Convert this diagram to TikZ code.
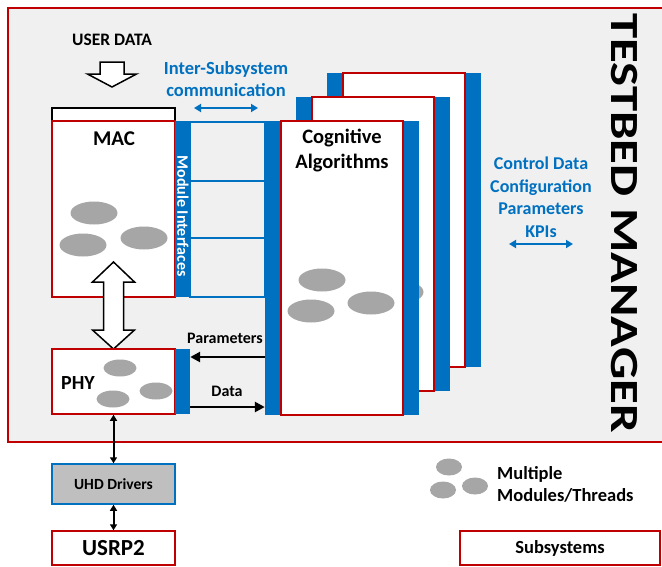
\documentclass[tikz,border=0pt]{standalone}
\usepackage{xcolor}
\usepackage{fontspec}
\setmainfont{Carlito}
\usepackage{tikz}
\usetikzlibrary{arrows.meta}
\usetikzlibrary{shapes.geometric}

\definecolor{tbred}{HTML}{C00000}
\definecolor{tbblue}{HTML}{0070C0}
\definecolor{tbback}{HTML}{F0F0F0}
\definecolor{blobgray}{HTML}{A6A6A6}
\definecolor{uhdgray}{HTML}{BFBFBF}

\newcommand{\fsz}[2]{\fontsize{#1}{#2}\selectfont\bfseries}

\tikzset{
	subsys/.style={draw=tbred, line width=1.5pt, fill=white, inner sep=0pt},
	bluebar/.style={fill=tbblue, inner sep=0pt},
	blob/.style={ellipse, fill=blobgray, inner sep=0pt, minimum width=47pt, minimum height=23pt},
	smallblob/.style={blob, minimum width=33pt, minimum height=17pt},
	blockarrow/.style={draw=black, line width=1.5pt, fill=white, line join=miter},
	blkarrow/.style={line width=2.5pt, -{Triangle[length=10pt,width=10pt]}},
	dblarrow/.style={line width=2pt, {Triangle[length=6pt,width=7pt]}-{Triangle[length=6pt,width=7pt]}},
	bluearrow/.style={tbblue, line width=2pt, {Triangle[length=7pt,width=8pt]}-{Triangle[length=7pt,width=8pt]}},
	lbl/.style={inner sep=0pt, align=center}
}

\begin{document}
\begin{tikzpicture}[x=1pt, y=-1pt]
	\useasboundingbox (0,0) rectangle (662,566);
	\clip (0,0) rectangle (662,566);

	% testbed manager frame
	\draw[draw=tbred, line width=2pt, fill=tbback] (8,8) rectangle (690,442);
	\node[lbl, rotate=-90, font=\fsz{40}{40}] (tbmgr) at (624,223) {\scalebox{1.27}[1]{TESTBED MANAGER}};

	% user data
	\node[lbl, font=\fsz{17.5}{21}] (userdata) at (112,40) {USER DATA};
	\draw[blockarrow] (100,62) -- (124,62) -- (124,74) -- (136.5,74) -- (112,87) -- (87.5,74) -- (100,74) -- cycle;

	% MAC
	\draw[black, line width=1.5pt, fill=white] (52,108) rectangle (175,121);
	\node[subsys, minimum width=123pt, minimum height=176pt] (mac) at (113.5,209) {};
	\node[lbl, font=\fsz{21}{25}] (maclabel) at (114,139) {MAC};
	\node[blob] (macblob1) at (94,213) {};
	\node[blob] (macblob2) at (83,245) {};
	\node[blob] (macblob3) at (144,238) {};

	% module interfaces
	\node[bluebar, minimum width=15pt, minimum height=176pt] (macbar) at (182.5,209) {};
	\node[lbl, rotate=-90, text=white, font=\fsz{16}{16}] (mif) at (183,216) {Module Interfaces};
	\foreach \ya/\yb in {122/181, 181/238, 238/297}
		\draw[tbblue, line width=1.5pt, fill=tbback] (190,\ya) rectangle (265,\yb);

	\node[lbl, text=tbblue, font=\fsz{18.5}{22}] (inter) at (226,79) {Inter-Subsystem\\communication};
	\coordinate (interl) at (194,108);
	\coordinate (interr) at (258,108);
	\draw[bluearrow] (interl) -- (interr);

	% cognitive algorithms, back copies first
	\foreach \k in {2,1} {
		\begin{scope}[shift={(31*\k,-24*\k)}]
			\node[bluebar, minimum width=154pt, minimum height=294pt] (cogbar\k) at (342,268) {};
			\node[subsys, minimum width=122pt, minimum height=294pt] (cog\k) at (342,268) {};
		\end{scope}
	}
	\node[blob] (cogblob0) at (400,292) {};

	\node[bluebar, minimum width=154pt, minimum height=294pt] (cogbar) at (342,268) {};
	\node[subsys, minimum width=122pt, minimum height=294pt] (cog) at (342,268) {};
	\node[lbl, font=\fsz{20.5}{25}] (coglabel) at (342,151) {Cognitive\\Algorithms};
	\node[blob] (cogblob1) at (322,280) {};
	\node[blob] (cogblob2) at (311,311) {};
	\node[blob] (cogblob3) at (371,303) {};

	\node[lbl, text=tbblue, font=\fsz{18}{22.5}] (ctrl) at (541,197) {Control Data\\Configuration\\Parameters\\KPIs};
	\coordinate (ctrll) at (509,244);
	\coordinate (ctrlr) at (573,244);
	\draw[bluearrow] (ctrll) -- (ctrlr);

	% MAC <-> PHY
	\draw[blockarrow] (113.5,262) -- (134.5,282) -- (123.5,282) -- (123.5,330) -- (134.5,330) -- (113.5,349)
		-- (92.5,330) -- (103.5,330) -- (103.5,282) -- (92.5,282) -- cycle;

	% PHY
	\node[subsys, minimum width=123pt, minimum height=65pt] (phy) at (113.5,381.5) {};
	\node[bluebar, minimum width=15pt, minimum height=65pt] (phybar) at (182.5,381.5) {};
	\node[lbl, font=\fsz{20}{24}] (phylabel) at (78,383) {PHY};
	\node[smallblob] (phyblob1) at (120,368) {};
	\node[smallblob] (phyblob2) at (113,399) {};
	\node[smallblob] (phyblob3) at (156,391) {};

	\draw[blkarrow] (cogbar.west |- 0,357) -- (phybar.east |- 0,357);
	\draw[blkarrow] (phybar.east |- 0,407) -- (cogbar.west |- 0,407);
	\node[lbl, font=\fsz{16}{19}] (params) at (225,338) {Parameters};
	\node[lbl, font=\fsz{16}{19}] (data) at (227,391) {Data};

	% drivers and radio
	\node[lbl, draw=tbblue, line width=1.5pt, fill=uhdgray, minimum width=123pt, minimum height=40pt, font=\fsz{15.5}{18}] (uhd) at (113.5,484) {UHD Drivers};
	\node[subsys, minimum width=123pt, minimum height=34pt, font=\fsz{23}{26}] (usrp) at (113.5,548) {USRP2};
	\draw[dblarrow] (phy.south) -- (uhd.north);
	\draw[dblarrow] (uhd.south) -- (usrp.north);

	% legend
	\node[blob, minimum width=26pt, minimum height=17pt] (legblob1) at (449,467) {};
	\node[blob, minimum width=26pt, minimum height=17pt] (legblob2) at (443,490) {};
	\node[blob, minimum width=26pt, minimum height=17pt] (legblob3) at (475,486) {};
	\node[lbl, anchor=west, align=left, font=\fsz{18.5}{22}] (legtext) at (497,484) {Multiple\\Modules/Threads};
	\node[subsys, minimum width=200pt, minimum height=34pt, font=\fsz{18.5}{21}] (legsub) at (560,548) {Subsystems};
\end{tikzpicture}
\end{document}
